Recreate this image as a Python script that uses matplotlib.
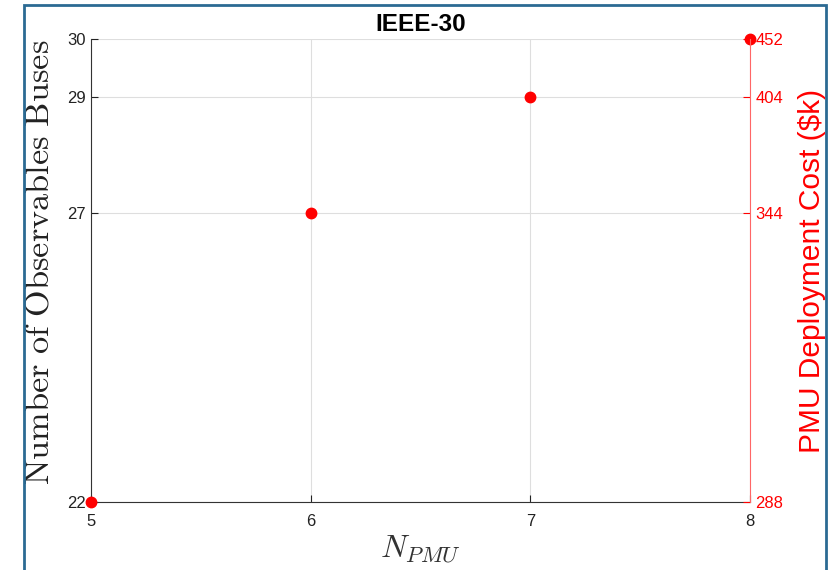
import matplotlib; matplotlib.use('Agg')
import matplotlib.pyplot as plt
from matplotlib.patches import Rectangle

n_pmu = [5, 6, 7, 8]
buses = [22, 27, 29, 30]
cost = [288, 344, 404, 452]

plt.rcParams['font.family'] = ['Liberation Sans', 'DejaVu Sans']
plt.rcParams['mathtext.fontset'] = 'cm'

fig = plt.figure(figsize=(8.4, 5.7), dpi=100)
ax = fig.add_axes([0.1083, 0.1193, 0.7845, 0.8123])

# blue frame around the figure
fig.patches.append(Rectangle((24 / 840, -0.05), 802 / 840, 1.05 - 5 / 570,
                             transform=fig.transFigure, fill=False,
                             edgecolor='#2b6a93', lw=2))

ax.plot(n_pmu, buses, 'o', color='red', markersize=7.5, clip_on=False, zorder=5)
ax.set_xlim(5, 8)
ax.set_ylim(22, 30)
ax.set_xticks(n_pmu)
ax.set_yticks(buses)
ax.grid(True, color='#dedede', lw=0.8)
ax.set_axisbelow(True)
ax.tick_params(direction='in', labelsize=12, colors='#222222', length=5)
ax.tick_params(axis='x', pad=9)
ax.spines['top'].set_visible(False)
ax.spines['right'].set_visible(False)
for s in ('left', 'bottom'):
    ax.spines[s].set_color('#333333')

ax.set_title('IEEE-30', fontsize=17.5, fontweight='bold', pad=6)
ax.set_xlabel(r'$N_{PMU}$', fontsize=23, color='#333333', labelpad=3)
ax.set_ylabel(r'$\mathrm{Number\ of\ Observables\ Buses}$', fontsize=24.7,
              color='#222222')
ax.yaxis.set_label_coords(-0.054, 0.517)

ax2 = ax.twinx()
ax2.set_ylim(22, 30)
ax2.set_yticks(buses)
ax2.set_yticklabels([str(c) for c in cost])
ax2.tick_params(direction='in', labelsize=12, colors='red', length=5, pad=4)
for s in ('top', 'left', 'bottom'):
    ax2.spines[s].set_visible(False)
ax2.spines['right'].set_color('#ff6666')
ax2.set_ylabel('PMU Deployment Cost ($k)', fontsize=21.5, color='red')
ax2.yaxis.set_label_coords(1.073, 0.5)

fig.savefig('out.png', dpi=100)
